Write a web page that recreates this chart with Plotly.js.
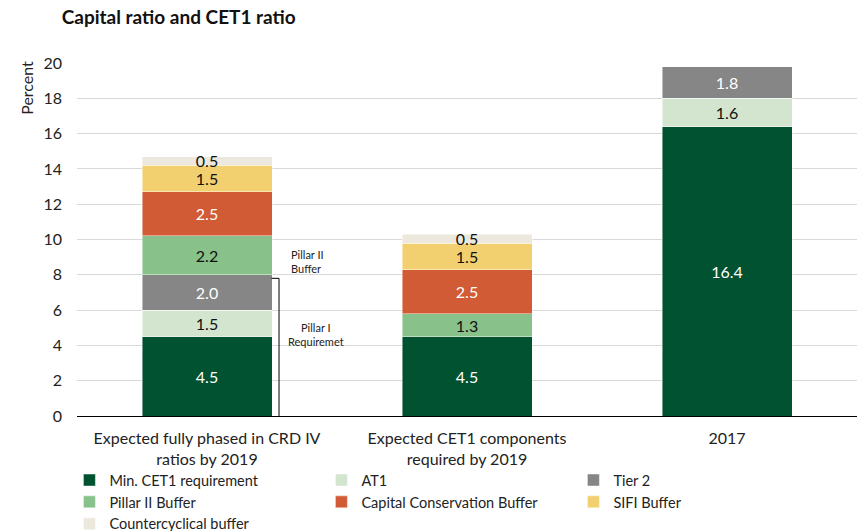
<!DOCTYPE html>
<html>
<head>
<meta charset="utf-8">
<script src="https://cdn.plot.ly/plotly-3.0.1.min.js"></script>
<style>html,body{margin:0;padding:0;background:#fff;}#chart{width:857px;height:531px;}</style>
</head>
<body>
<div id="chart"></div>
<script>
const categories = [
  "Expected fully phased in CRD IV<br>ratios by 2019",
  "Expected CET1 components<br>required by 2019",
  "2017"
];
const minCET1 = [4.5, 4.5, 16.4];
const at1 = [1.5, null, 1.6];
const tier2 = [2.0, null, 1.8];
const pillar2 = [2.2, 1.3, null];
const ccb = [2.5, 2.5, null];
const sifi = [1.5, 1.5, null];
const ccyb = [0.5, 0.5, null];

const seriesNames = ["Min. CET1 requirement", "AT1", "Tier 2", "Pillar II Buffer",
  "Capital Conservation Buffer", "SIFI Buffer", "Countercyclical buffer"];
const seriesData = [minCET1, at1, tier2, pillar2, ccb, sifi, ccyb];
const colors = ["#005230", "#d3e5cf", "#868686", "#88c18a", "#d05b35", "#f2d06f", "#ede8dd"];
const textColors = ["#ffffff", "#111111", "#ffffff", "#111111", "#ffffff", "#111111", "#111111"];

const FONT = "Lato, 'Liberation Sans', sans-serif";

const traces = seriesNames.map((name, i) => ({
  type: "bar",
  name: name,
  x: categories,
  y: seriesData[i],
  marker: {color: colors[i], line: {color: "rgba(255,255,255,0.6)", width: 0.75}},
  text: seriesData[i].map(v => v == null ? "" : v.toFixed(1)),
  textposition: "inside",
  insidetextanchor: "middle",
  constraintext: "none",
  textangle: 0,
  textfont: {family: FONT, size: 16, color: textColors[i]},
  hoverinfo: "name+y"
}));

const layout = {
  width: 857, height: 531,
  margin: {l: 77, r: 0, t: 63, b: 115},
  paper_bgcolor: "#fff", plot_bgcolor: "#fff",
  font: {family: FONT, size: 16, color: "#222"},
  title: {text: "<b>Capital ratio and CET1 ratio</b>", x: 0.072, xanchor: "left", xref: "container",
          y: 0.968, yanchor: "middle", yref: "container", font: {family: FONT, size: 19, color: "#111"}},
  barmode: "stack",
  bargap: 0.5,
  showlegend: true,
  legend: {orientation: "h", xref: "container", yref: "container", x: 0.081, xanchor: "left",
           y: 0.126, yanchor: "top", bgcolor: "rgba(0,0,0,0)",
           entrywidth: 207, entrywidthmode: "pixels", traceorder: "normal",
           font: {family: FONT, size: 14.5, color: "#222"}, itemclick: false},
  xaxis: {type: "category", showgrid: false, ticks: "", showline: false, zeroline: false,
          ticklabelstandoff: 11, tickfont: {family: FONT, size: 16, color: "#222"}},
  yaxis: {range: [0, 20], dtick: 2, showgrid: true, gridcolor: "#d9d9d9", gridwidth: 1,
          zeroline: true, zerolinecolor: "#000", zerolinewidth: 1, showline: false,
          ticks: "", ticklabelstandoff: 14, tickfont: {family: FONT, size: 16, color: "#222"}},
  annotations: [
    {text: "Percent", textangle: -90, xref: "paper", yref: "paper", x: -0.064, y: 0.93,
     xanchor: "center", yanchor: "middle", showarrow: false, font: {family: FONT, size: 16, color: "#222"}},
    {text: "Pillar II<br>Buffer", xref: "x", yref: "y", x: 0.315, y: 8.75, xanchor: "left", yanchor: "middle",
     align: "left", showarrow: false, font: {family: FONT, size: 11, color: "#222"}},
    {text: "Pillar I<br>Requiremet", xref: "x", yref: "y", x: 0.42, y: 4.6, xanchor: "center", yanchor: "middle",
     align: "center", showarrow: false, font: {family: FONT, size: 11, color: "#222"}}
  ],
  shapes: [
    {type: "path", xref: "x", yref: "y", path: "M 0.248 7.8 L 0.277 7.8 L 0.277 -0.1 L 0.248 -0.1",
     line: {color: "#000", width: 1}}
  ]
};

Plotly.newPlot("chart", traces, layout, {displayModeBar: false, staticPlot: true});
</script>
</body>
</html>
